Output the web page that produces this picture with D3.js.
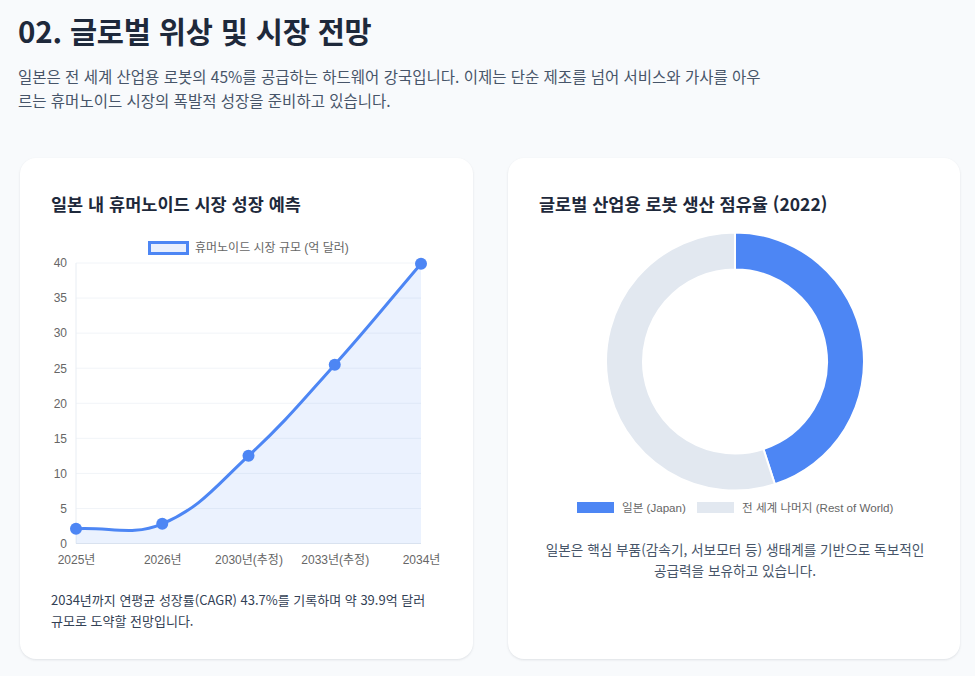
<!DOCTYPE html>
<html lang="ko">
<head>
<meta charset="utf-8">
<script src="https://cdn.jsdelivr.net/npm/d3@7/dist/d3.min.js"></script>
<style>
  body { margin: 0; background: #f8fafc; font-family: "Noto Sans CJK KR", "Noto Sans", sans-serif; width: 975px; height: 676px; position: relative; overflow: hidden; }
  h2 { position: absolute; left: 18px; top: 9px; margin: 0; font-size: 29.5px; font-weight: 700; color: #1e293b; letter-spacing: -0.2px; }
  .lead { position: absolute; left: 18px; top: 64px; margin: 0; font-size: 15.5px; line-height: 24px; color: #475569; }
  .card { position: absolute; top: 158px; height: 501px; background: #fff; border-radius: 16px; box-shadow: 0 1px 3px rgba(15,23,42,0.07), 0 1px 2px rgba(15,23,42,0.04); }
  .card h3 { position: absolute; left: 31px; top: 33px; margin: 0; font-size: 17.5px; font-weight: 700; color: #1e293b; }
  .card svg { position: absolute; left: 0; top: 0; }
  .note { position: absolute; font-size: 13px; line-height: 21px; color: #334155; }
</style>
</head>
<body>
<h2>02. 글로벌 위상 및 시장 전망</h2>
<p class="lead">일본은 전 세계 산업용 로봇의 45%를 공급하는 하드웨어 강국입니다. 이제는 단순 제조를 넘어 서비스와 가사를 아우<br>르는 휴머노이드 시장의 폭발적 성장을 준비하고 있습니다.</p>

<div class="card" id="cardLeft" style="left:20px; width:453px;">
  <h3>일본 내 휴머노이드 시장 성장 예측</h3>
  <svg id="lineChart" width="453" height="430"></svg>
  <div class="note" style="left:31px; top:431px;">2034년까지 연평균 성장률(CAGR) 43.7%를 기록하며 약 39.9억 달러<br>규모로 도약할 전망입니다.</div>
</div>

<div class="card" id="cardRight" style="left:508px; width:452px;">
  <h3>글로벌 산업용 로봇 생산 점유율 (2022)</h3>
  <svg id="donutChart" width="452" height="370"></svg>
  <div class="note" style="left:0; width:454px; top:381px; text-align:center; color:#475569; font-size:13.65px;">일본은 핵심 부품(감속기, 서보모터 등) 생태계를 기반으로 독보적인<br>공급력을 보유하고 있습니다.</div>
</div>

<script>
// market size data (억 달러)
var years = ["2025년", "2026년", "2030년(추정)", "2033년(추정)", "2034년"];
var marketSize = [2.1, 2.8, 12.5, 25.5, 39.9];
var yTicks = [0, 5, 10, 15, 20, 25, 30, 35, 40];
var lineLabel = "휴머노이드 시장 규모 (억 달러)";

// share data
var shareLabels = ["일본 (Japan)", "전 세계 나머지 (Rest of World)"];
var shareValues = [45, 55];
var shareColors = ["#4d86f4", "#e2e8f0"];

var blue = "#4d86f4";
var tickFont = "Liberation Sans, Arial, 'Noto Sans CJK KR', sans-serif";

// chart.js style spline (tension 0.4)
function splineCurve(context) {
    var pts = [];
    return {
        areaStart: function() {},
        areaEnd: function() {},
        lineStart: function() { pts = []; },
        point: function(x, y) { pts.push([+x, +y]); },
        lineEnd: function() {
            var t = 0.4, n = pts.length, cps = [];
            for (var i = 0; i < n; i++) {
                var p0 = pts[Math.max(i - 1, 0)], p1 = pts[i], p2 = pts[Math.min(i + 1, n - 1)];
                var d01 = Math.hypot(p1[0] - p0[0], p1[1] - p0[1]);
                var d12 = Math.hypot(p2[0] - p1[0], p2[1] - p1[1]);
                var s01 = d01 / (d01 + d12) || 0, s12 = d12 / (d01 + d12) || 0;
                var fa = t * s01, fb = t * s12;
                cps.push({
                    prev: [p1[0] - fa * (p2[0] - p0[0]), p1[1] - fa * (p2[1] - p0[1])],
                    next: [p1[0] + fb * (p2[0] - p0[0]), p1[1] + fb * (p2[1] - p0[1])]
                });
            }
            context.moveTo(pts[0][0], pts[0][1]);
            for (var j = 1; j < n; j++) {
                context.bezierCurveTo(cps[j - 1].next[0], cps[j - 1].next[1], cps[j].prev[0], cps[j].prev[1], pts[j][0], pts[j][1]);
            }
        }
    };
}

// ---------- line chart ----------
var svgLine = d3.select("#lineChart");
var margin = {left: 56, top: 105, right: 52};
var height = 280.5;
var width = 453 - margin.left - margin.right;

var g = svgLine.append("g").attr("transform", "translate(" + margin.left + "," + margin.top + ")");

var x = d3.scalePoint().domain(years).range([0, width]);
var y = d3.scaleLinear().domain([0, 40]).range([height, 0]);

// grid
g.selectAll(".grid")
    .data(yTicks)
    .enter().append("line")
    .attr("x1", 0).attr("x2", width)
    .attr("y1", function(d) { return y(d); })
    .attr("y2", function(d) { return y(d); })
    .attr("stroke", "#f1f4f8")
    .attr("stroke-width", 1);

// axis lines
g.append("line").attr("x1", 0).attr("x2", 0).attr("y1", 0).attr("y2", height).attr("stroke", "#e8edf3");
g.append("line").attr("x1", 0).attr("x2", width).attr("y1", height).attr("y2", height).attr("stroke", "#e2e8f0");

var yAxis = g.append("g")
    .call(d3.axisLeft(y).tickValues(yTicks).tickSize(0).tickPadding(9));
yAxis.select(".domain").remove();
yAxis.selectAll("text").attr("fill", "#666").style("font-family", tickFont).style("font-size", "12px");

var xAxis = g.append("g")
    .attr("transform", "translate(0," + height + ")")
    .call(d3.axisBottom(x).tickSize(0).tickPadding(12));
xAxis.select(".domain").remove();
xAxis.selectAll("text").attr("fill", "#666").style("font-family", tickFont).style("font-size", "12px");

var line = d3.line()
    .x(function(d, i) { return x(years[i]); })
    .y(function(d) { return y(d); })
    .curve(splineCurve);

// area fill: spline then close to baseline
var areaPath = d3.path();
d3.line()
    .x(function(d, i) { return x(years[i]); })
    .y(function(d) { return y(d); })
    .curve(splineCurve)
    .context(areaPath)(marketSize);
areaPath.lineTo(x(years[years.length - 1]), height);
areaPath.lineTo(x(years[0]), height);
areaPath.closePath();

g.append("path")
    .attr("d", areaPath.toString())
    .attr("fill", "rgba(77,134,244,0.11)");

g.append("path")
    .datum(marketSize)
    .attr("d", line)
    .attr("fill", "none")
    .attr("stroke", blue)
    .attr("stroke-width", 3);

g.selectAll(".dot")
    .data(marketSize)
    .enter().append("circle")
    .attr("cx", function(d, i) { return x(years[i]); })
    .attr("cy", function(d) { return y(d); })
    .attr("r", 6)
    .attr("fill", blue);

// legend
var lg = svgLine.append("g").attr("transform", "translate(128,83)");
lg.append("rect").attr("x", 1.5).attr("y", 1.5).attr("width", 38).attr("height", 11)
    .attr("fill", "#e9effd").attr("stroke", blue).attr("stroke-width", 3);
lg.append("text").attr("x", 47).attr("y", 11).attr("fill", "#666")
    .style("font-family", tickFont).style("font-size", "12px").text(lineLabel);

// ---------- donut ----------
var svgDonut = d3.select("#donutChart");
var dg = svgDonut.append("g").attr("transform", "translate(227,203.5)");

var pie = d3.pie().sort(null).value(function(d) { return d; });
var arc = d3.arc().innerRadius(92).outerRadius(129);

dg.selectAll(".slice")
    .data(pie(shareValues))
    .enter().append("path")
    .attr("d", arc)
    .attr("fill", function(d, i) { return shareColors[i]; })
    .attr("stroke", "#fff")
    .attr("stroke-width", 2);

var legendX = [69, 189];
var dl = svgDonut.selectAll(".leg")
    .data(shareLabels)
    .enter().append("g")
    .attr("transform", function(d, i) { return "translate(" + legendX[i] + ",344)"; });
dl.append("rect").attr("width", 37).attr("height", 11)
    .attr("fill", function(d, i) { return shareColors[i]; });
dl.append("text").attr("x", 45).attr("y", 10).attr("fill", "#666")
    .style("font-family", tickFont).style("font-size", "11.6px")
    .text(function(d) { return d; });
</script>
</body>
</html>
